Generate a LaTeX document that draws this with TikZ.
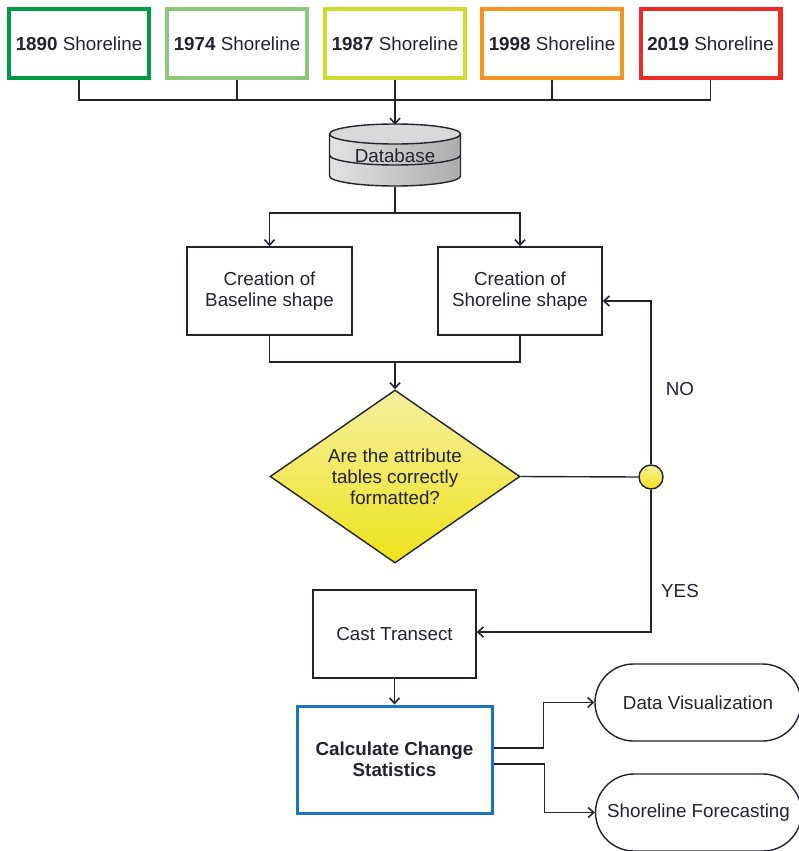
\documentclass[tikz,border=0pt]{standalone}
\usepackage{fontspec}
\setmainfont{Liberation Sans}
\usetikzlibrary{arrows.meta,shapes.geometric,shapes.misc}
\definecolor{ink}{HTML}{22232E}
\definecolor{yrA}{HTML}{009A44}
\definecolor{yrB}{HTML}{8CC97A}
\definecolor{yrC}{HTML}{CEDC2C}
\definecolor{yrD}{HTML}{F7941D}
\definecolor{yrE}{HTML}{EE2A24}
\definecolor{calcblue}{HTML}{1B75BC}
\definecolor{yelA}{HTML}{F5F0A0}
\definecolor{yelB}{HTML}{EEE31A}
\begin{document}
\begin{tikzpicture}[x=1pt,y=-1pt,
  every node/.style={font=\fontsize{18.8}{21}\selectfont,text=ink,align=center},
  line/.style={draw=ink,line width=1.4pt},
  >={Straight Barb[length=5.5pt,width=10pt,line width=1.6pt]},
  yearbox/.style={draw=#1,line width=4.4pt,minimum width=139.6pt,minimum height=68.6pt,inner sep=0pt},
  procbox/.style={draw=ink,line width=1.4pt,minimum width=#1,minimum height=88pt,inner sep=0pt},
  pill/.style={draw=ink,line width=1.4pt,rounded rectangle,minimum width=206pt,minimum height=77pt,inner sep=0pt}]
\useasboundingbox (0,0) rectangle (799,851);
\clip (0,0) rectangle (799,851);
\node[yearbox=yrA] (y1) at (79,43.5) {\textbf{1890} Shoreline};
\node[yearbox=yrB] (y2) at (237,43.5) {\textbf{1974} Shoreline};
\node[yearbox=yrC] (y3) at (395,43.5) {\textbf{1987} Shoreline};
\node[yearbox=yrD] (y4) at (552,43.5) {\textbf{1998} Shoreline};
\node[yearbox=yrE] (y5) at (710.5,43.5) {\textbf{2019} Shoreline};
\coordinate (bus) at (395,100);
\shade[left color=gray!22,right color=gray!65] (329.5,134) -- (329.5,176) arc[start angle=180,end angle=360,x radius=65.5pt,y radius=10pt] -- (460.5,134) arc[start angle=0,end angle=180,x radius=65.5pt,y radius=10pt] -- cycle;
\draw[line] (329.5,134) -- (329.5,176) arc[start angle=180,end angle=360,x radius=65.5pt,y radius=10pt] -- (460.5,134);
\draw[line,fill=gray!30] (395,134) ellipse[x radius=65.5pt,y radius=10pt];
\draw[line] (329.5,155) arc[start angle=180,end angle=360,x radius=65.5pt,y radius=10pt];
\node[minimum width=131pt,minimum height=62pt,inner sep=0pt] (db) at (395,156) {Database};
\node[procbox=165pt] (base) at (269.5,291) {Creation of\\Baseline shape};
\node[procbox=164pt] (shore) at (520,291) {Creation of\\Shoreline shape};
\node[diamond,draw=ink,line width=1.4pt,top color=yelA,bottom color=yelB,aspect=1.445,minimum width=250pt,minimum height=173pt,inner sep=0pt] (dec) at (395,476.5) {Are the attribute\\tables correctly\\formatted?};
\node[circle,draw=ink,line width=1.4pt,top color=yelA,bottom color=yelB,minimum size=24pt,inner sep=0pt] (sw) at (651,477) {};
\node (no) at (680,389) {NO};
\node (yes) at (680,591) {YES};
\node[procbox=163pt] (cast) at (394.5,634) {Cast Transect};
\node[draw=calcblue,line width=3pt,minimum width=195pt,minimum height=107pt,inner sep=0pt,font=\fontsize{18.8}{21}\selectfont\bfseries] (calc) at (394.5,759.5) {Calculate Change\\Statistics};
\node[pill] (vis) at (698,702.5) {Data Visualization};
\node[pill] (fore) at (698.5,812.5) {Shoreline Forecasting};
\coordinate (split) at (395,213);
\coordinate (join) at (395,362);
\draw[line] (y1.south) |- (bus) -| (y5.south);
\draw[line] (y2.south) -- (y2.south |- bus);
\draw[line] (y4.south) -- (y4.south |- bus);
\draw[line,->] (y3.south) -- (db.north);
\draw[line] (db.south) -- (split);
\draw[line,->] (split) -| (base.north);
\draw[line,->] (split) -| (shore.north);
\draw[line] (base.south) |- (join) -| (shore.south);
\draw[line,->] (join) -- (dec.north);
\draw[line] (dec.east) -- (sw.west);
\draw[line,->] (sw.north) |- ([yshift=-10pt]shore.east);
\draw[line,->] (sw.south) |- ([yshift=2pt]cast.east);
\draw[line,->] (cast.south) -- (calc.north);
\draw[line,->] ([yshift=11.5pt]calc.east) -- ++(50,0) |- (vis.west);
\draw[line,->] ([yshift=-4.5pt]calc.east) -- ++(51,0) |- (fore.west);
\end{tikzpicture}
\end{document}
